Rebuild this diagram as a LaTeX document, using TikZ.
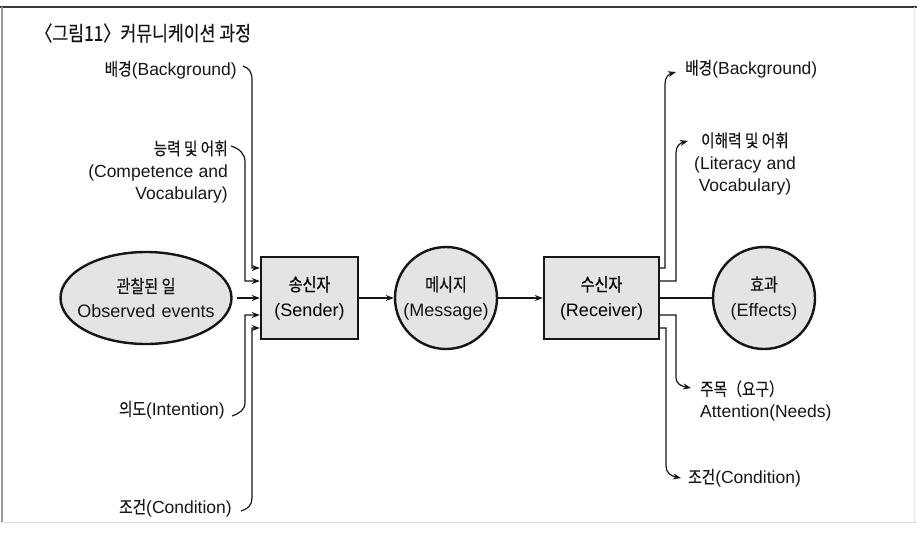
\documentclass[tikz,border=0pt]{standalone}
\usepackage{fontspec}
\setmainfont{Liberation Sans}
\newfontfamily\kr{Noto Sans CJK KR}[Scale=1.0,FakeStretch=0.84,FakeBold=0.3]
\usetikzlibrary{arrows.meta,shapes.geometric}
\definecolor{shapefill}{HTML}{E4E4E4}
\definecolor{ink}{HTML}{161616}
\begin{document}
\begin{tikzpicture}[x=1pt,y=-1pt,
  font=\fontsize{18}{25}\selectfont,
  shapebase/.style={draw=ink,line width=2.4pt,fill=shapefill,inner sep=0pt},
  agent/.style={shapebase,rectangle,align=center,minimum height=82pt},
  bubble/.style={shapebase,circle,minimum size=102pt},
  inside/.style={align=center,inner sep=0pt,text=ink},
  lbl/.style={inner sep=0pt,text=ink,font=\fontsize{17.5}{22.5}\selectfont},
  link/.style={draw=ink,line width=1.2pt},
  feed/.style={link,-{Stealth[length=8pt,width=6pt]}},
]
\useasboundingbox (0,0) rectangle (917,533);

% page frame
\draw[ink!85,line width=2.4pt] (0,7) -- (917,7);
\draw[gray!80,line width=1.4pt] (2,7) -- (2,522);
\draw[gray!25,line width=1pt] (2,522) -- (917,522);
\draw[gray!20,line width=0.8pt] (914,7) -- (914,522);

% caption
\node[anchor=west,inner sep=0pt,text=ink,font=\fontsize{20.5}{22}\kr] (caption) at (35,33) {〈그림11〉커뮤니케이션 과정};

% main chain: outlines first, then their texts
\node[shapebase,ellipse,minimum width=171pt,minimum height=92pt] (events) at (146,298) {};
\node[inside] (eventsText) at (events) {{\kr 관찰된 일}\\Observed\hspace{0.35em}events};
\node[agent,minimum width=97pt] (sender) at (309.5,298) {{\kr 송신자}\\(Sender)};
\node[bubble] (message) at (446,298) {};
\node[inside] (messageText) at (message) {{\kr 메시지}\\(Message)};
\node[agent,minimum width=115pt] (receiver) at (601.5,298) {{\kr 수신자}\\(Receiver)};
\node[bubble] (effects) at (764,298) {};
\node[inside] (effectsText) at (effects) {{\kr 효과}\\(Effects)};

\draw[feed] ([xshift=4pt]events.east) -- (sender.west);
\draw[feed] (sender.east) -- (message.west);
\draw[feed] (message.east) -- (receiver.west);
\draw[link] (receiver.east) -- (effects.west);

% sender-side factors
\node[lbl,anchor=east] (bgL) at (237,70) {{\kr 배경}(Background)};
\node[lbl,anchor=east,align=right] (compL) at (228,172)
  {{\kr 능력 및 어휘}\\(Competence\hspace{0.3em}and\\Vocabulary)};
\node[lbl,anchor=east] (intL) at (225,410) {{\kr 의도}(Intention)};
\node[lbl,anchor=east] (condL) at (232,508) {{\kr 조건}(Condition)};

\coordinate (bgLend) at (243,66);
\coordinate (compLend) at (231,146);
\coordinate (intLend) at (232,416);
\coordinate (condLend) at (241,511);

\draw[feed] (bgLend) .. controls (249,68) and (252,72) .. (252,80)
  -- (252,268) -- (sender.west |- 0,268);
\draw[feed] (compLend) .. controls (240,149) and (245,154) .. (245,162)
  -- (245,281) -- (sender.west |- 0,281);
\draw[feed] (intLend) .. controls (240,413) and (245,410) .. (245,402)
  -- (245,315) -- (sender.west |- 0,315);
\draw[feed] (condLend) .. controls (248,509) and (252,505) .. (252,498)
  -- (252,328) -- (sender.west |- 0,328);

% receiver-side factors
\node[lbl,anchor=west] (bgR) at (685,69) {{\kr 배경}(Background)};
\node[lbl,anchor=west,align=center] (litR) at (694,164)
  {{\kr 이해력 및 어휘}\\(Literacy\hspace{0.3em}and\\Vocabulary)};
\node[lbl,anchor=west,align=left] (attR) at (700,401)
  {{\kr 주목（요구）}\\Attention(Needs)};
\node[lbl,anchor=west] (condR) at (688,478) {{\kr 조건}(Condition)};

\coordinate (bgRend) at (676,72);
\coordinate (litRend) at (688,141);
\coordinate (attRend) at (691,388);
\coordinate (condRend) at (681,478);

\draw[feed] (receiver.east |- 0,268) -- (665,268) -- (665,84)
  .. controls (665,77) and (669,74) .. (bgRend);
\draw[feed] (receiver.east |- 0,281) -- (676,281) -- (676,153)
  .. controls (676,146) and (680,143) .. (litRend);
\draw[feed] (receiver.east |- 0,315) -- (676,315) -- (676,377)
  .. controls (676,384) and (681,386) .. (attRend);
\draw[feed] (receiver.east |- 0,328) -- (666,328) -- (666,466)
  .. controls (666,473) and (671,476) .. (condRend);
\end{tikzpicture}
\end{document}
